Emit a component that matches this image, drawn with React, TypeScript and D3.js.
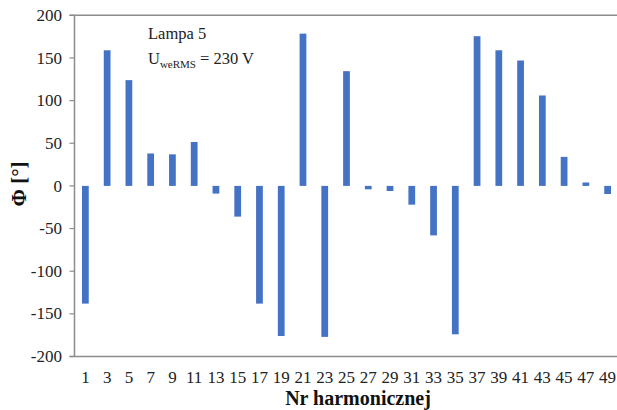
import React from "react";
import * as d3 from "d3";

// Harmonic orders and phase angles (degrees)
const harmonics = [1, 3, 5, 7, 9, 11, 13, 15, 17, 19, 21, 23, 25, 27, 29, 31, 33, 35, 37, 39, 41, 43, 45, 47, 49];
const phase = [-138, 159, 124, 38, 37, 51.5, -9, -36, -138, -176, 178.5, -177, 134.5, -4, -6, -22, -58, -174, 175.5, 159, 147, 106, 34, 4, -9.5];
const yTicks = [-200, -150, -100, -50, 0, 50, 100, 150, 200];

const W = 617;
const H = 410;
const left = 74.5;
const right = 618.5;
const top = 15.3;
const bottom = 356.5;

export default function App() {
  const x = d3.scaleBand<number>().domain(harmonics).range([left, right]).padding(0);
  const y = d3.scaleLinear().domain([-200, 200]).range([bottom, top]);
  const barW = x.bandwidth() * 0.31;
  const font = "'Liberation Serif', 'Times New Roman', serif";
  const axisColor = "#8c8c8c";

  return (
    <svg
      width={W}
      height={H}
      style={{ position: "absolute", left: 0, top: 0, background: "#fff" }}
      fontFamily={font}
    >
      {/* bars */}
      {harmonics.map((h, i) => {
        const v = phase[i];
        const cx = (x(h) as number) + x.bandwidth() / 2;
        return (
          <rect
            key={h}
            x={cx - barW / 2}
            y={Math.min(y(v), y(0))}
            width={barW}
            height={Math.abs(y(v) - y(0))}
            fill="#4472C4"
          />
        );
      })}

      {/* frame lines */}
      <line x1={left - 5} x2={W} y1={y(200)} y2={y(200)} stroke={axisColor} strokeWidth={1.5} />
      <line x1={left - 5} x2={W} y1={y(-200)} y2={y(-200)} stroke={axisColor} strokeWidth={1.5} />
      <line x1={left} x2={left} y1={y(200)} y2={y(-200)} stroke={axisColor} strokeWidth={1.5} />

      {/* y ticks */}
      {yTicks.map((t) => (
        <g key={t}>
          <line x1={left - 5} x2={left} y1={y(t)} y2={y(t)} stroke={axisColor} strokeWidth={1.2} />
          <text x={62} y={y(t)} dy="0.33em" textAnchor="end" fontSize={17} fill="#222">
            {t}
          </text>
        </g>
      ))}

      {/* x tick labels */}
      {harmonics.map((h) => (
        <text
          key={h}
          x={(x(h) as number) + x.bandwidth() / 2}
          y={383}
          textAnchor="middle"
          fontSize={17}
          fill="#222"
        >
          {h}
        </text>
      ))}

      {/* axis titles */}
      <text x={358} y={405} textAnchor="middle" fontSize={20} fontWeight="bold" fill="#111">
        Nr harmonicznej
      </text>
      <text
        transform={`translate(26, ${184}) rotate(-90)`}
        textAnchor="middle"
        fontSize={21}
        fontWeight="bold"
        fill="#111"
      >
        Φ [°]
      </text>

      {/* annotation */}
      <text x={148} y={39} fontSize={16.5} fill="#222">
        Lampa 5
      </text>
      <text x={148} y={64} fontSize={16.5} fill="#222">
        U<tspan fontSize={11} dy={4}>weRMS</tspan>
        <tspan dy={-4}> = 230 V</tspan>
      </text>
    </svg>
  );
}
